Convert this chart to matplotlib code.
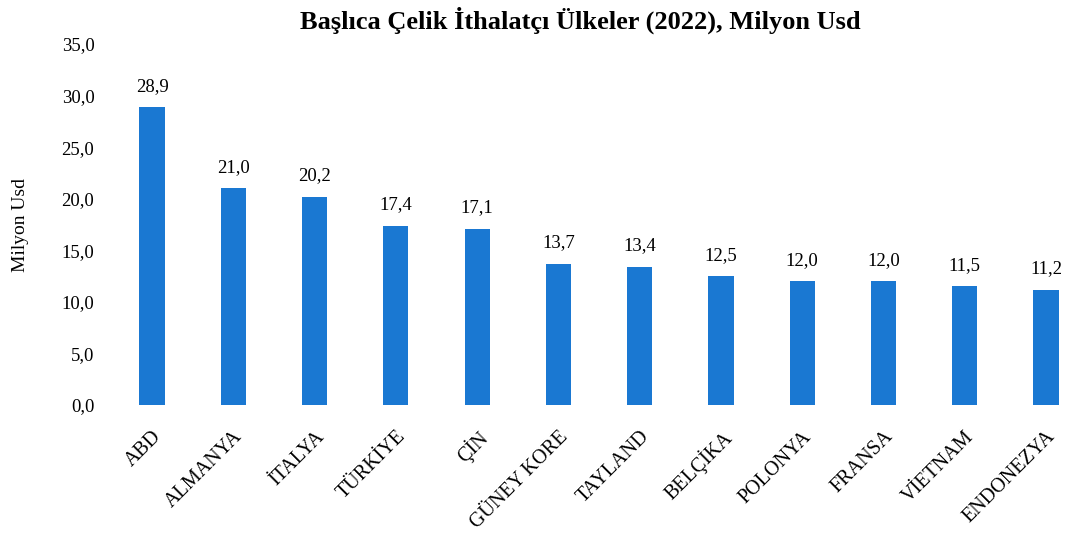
import matplotlib.pyplot as plt
from matplotlib.ticker import FuncFormatter

ulkeler = ['ABD', 'ALMANYA', 'İTALYA', 'TÜRKİYE', 'ÇİN', 'GÜNEY KORE', 'TAYLAND',
           'BELÇİKA', 'POLONYA', 'FRANSA', 'VİETNAM', 'ENDONEZYA']
degerler = [28.9, 21.0, 20.2, 17.4, 17.1, 13.7, 13.4, 12.5, 12.0, 12.0, 11.5, 11.2]
y_ticks = [0, 5, 10, 15, 20, 25, 30, 35]

plt.rcParams['font.family'] = ['Liberation Serif', 'DejaVu Serif']

fig = plt.figure(figsize=(10.82, 5.44), dpi=100)
ax = fig.add_axes([0.118, 0.2555, 0.875, 0.6635])

x = range(len(ulkeler))
bars = ax.bar(x, degerler, width=0.31, color='#1a78d2')

for b, v in zip(bars, degerler):
    ax.text(b.get_x() + b.get_width() / 2, v + 1.2, f'{v:.1f}'.replace('.', ','),
            ha='center', va='bottom', fontsize=13.5)

ax.set_xlim(-0.3, 11.35)
ax.set_ylim(0, 35)
ax.set_yticks(y_ticks)
ax.yaxis.set_major_formatter(FuncFormatter(lambda v, p: f'{v:.1f}'.replace('.', ',')))
ax.set_xticks(list(x))
ax.set_xticklabels(ulkeler, rotation=45, ha='right', rotation_mode='anchor', fontsize=14.5)
ax.tick_params(axis='both', length=0)
ax.tick_params(axis='y', labelsize=13.5, pad=24)
ax.tick_params(axis='x', pad=16)

for s in ax.spines.values():
    s.set_visible(False)

ax.set_ylabel('Milyon Usd', fontsize=14)
ax.yaxis.set_label_coords(-0.104, 0.5)
fig.text(0.536, 0.962, 'Başlıca Çelik İthalatçı Ülkeler (2022), Milyon Usd',
         ha='center', va='center', fontsize=19, fontweight='bold')

fig.savefig('out.png', dpi=100)
